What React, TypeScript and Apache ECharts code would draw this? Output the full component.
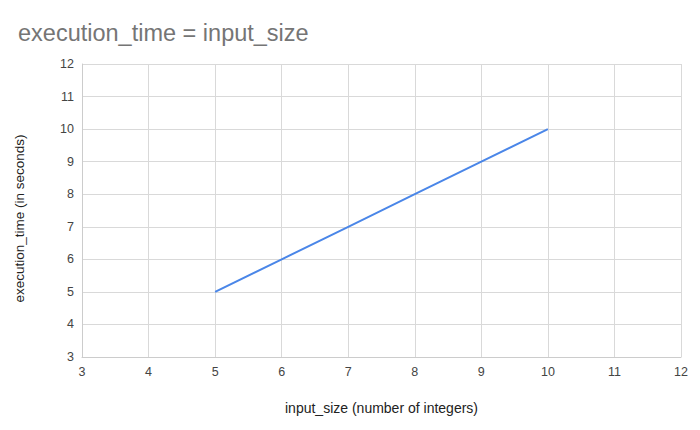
import React, { useEffect, useRef } from "react";
import * as echarts from "echarts";

const inputSize = [5, 6, 7, 8, 9, 10];
const executionTime = [5, 6, 7, 8, 9, 10];
const titleText = "execution_time = input_size";
const xName = "input_size (number of integers)";
const yName = "execution_time (in seconds)";

export default function App() {
  const ref = useRef<HTMLDivElement>(null);
  useEffect(() => {
    const chart = echarts.init(ref.current!, null, { renderer: "svg" });
    chart.setOption({
      animation: false,
      backgroundColor: "#ffffff",
      title: {
        text: titleText,
        left: 13,
        top: 16,
        textStyle: { fontFamily: "Arial, Liberation Sans", fontSize: 23.5, fontWeight: "normal", color: "#757575" },
      },
      grid: { left: 82, right: 19, top: 64, bottom: 73 },
      xAxis: {
        type: "value",
        min: 3,
        max: 12,
        interval: 1,
        name: xName,
        nameLocation: "middle",
        nameGap: 44,
        nameTextStyle: { fontFamily: "Arial, Liberation Sans", fontSize: 14, color: "#222" },
        axisLine: { show: true, lineStyle: { color: "#cccccc" } },
        axisTick: { show: false },
        axisLabel: { fontFamily: "Arial, Liberation Sans", fontSize: 12.5, color: "#444", margin: 8 },
        splitLine: { show: true, lineStyle: { color: "#d9d9d9" } },
      },
      yAxis: {
        type: "value",
        min: 3,
        max: 12,
        interval: 1,
        name: yName,
        nameLocation: "middle",
        nameGap: 56,
        nameTextStyle: { fontFamily: "Arial, Liberation Sans", fontSize: 13.5, color: "#222", padding: [0, 16, 0, 0] },
        axisLine: { show: true, lineStyle: { color: "#cccccc" } },
        axisTick: { show: false },
        axisLabel: { fontFamily: "Arial, Liberation Sans", fontSize: 12.5, color: "#444", margin: 8 },
        splitLine: { show: true, lineStyle: { color: "#d9d9d9" } },
      },
      series: [
        {
          type: "line",
          data: inputSize.map((x, i) => [x, executionTime[i]]),
          showSymbol: false,
          lineStyle: { color: "#4a86e8", width: 2 },
          itemStyle: { color: "#4a86e8" },
        },
      ],
    });
    return () => chart.dispose();
  }, []);
  return <div ref={ref} style={{ position: "fixed", left: 0, top: 0, width: 700, height: 430 }} />;
}
